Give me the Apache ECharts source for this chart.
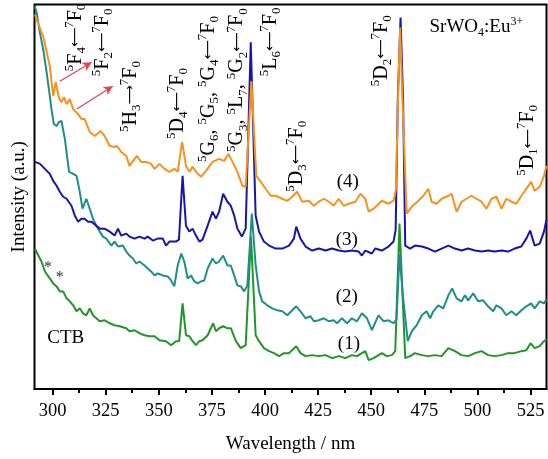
<!DOCTYPE html>
<html><head><meta charset="utf-8">
<script src="https://cdn.jsdelivr.net/npm/echarts@6/dist/echarts.min.js"></script>
<style>html,body{margin:0;padding:0;background:#fff}#c{width:548px;height:459px}</style>
</head><body><div id="c"></div>
<script>
// Wavelengths (nm) and intensities (a.u., arbitrary offsets as in the figure)
const wl1 = [291.7,293.3,294.8,296.4,297.2,298.7,300.3,301.9,303.4,305,306.6,308.1,309.7,311.3,312.8,314.3,315.9,317.5,319,320.6,322.2,324.5,326.9,329.2,331.6,334.7,336.2,338.6,340.9,343.3,345.6,348,350.3,353.4,355.8,358.1,359.6,361.2,362.8,364.4,365.9,367.5,369.1,370.6,373,375.6,376.9,378.4,380.3,382.3,383.9,386.3,388.6,390.9,393.4,395.6,397.2,399.5,401.9,404.2,406.6,408.9,411.3,414.7,416.7,419.1,422.2,425.3,428.5,431.6,434.7,437.8,440.9,443.3,445.6,447.2,448.8,451.1,455,457.3,459.7,461.3,463.3,466,468.3,470.6,473.8,476.9,480,483.1,486.3,489.4,492.5,495.6,498.8,501.9,505,508.1,511.3,514.4,517.5,520.6,523,525,526.9,529.3,531.3,532.5];
const int1 = [141,134,128,118,116,111,106,103,98,98,91,88,84,78,81,76,74,81,74,71,68,69,66,64,63,61,58,59,56,54,53,53,49,48,44,48,48,86,54,53,48,44,48,49,54,66,58,61,63,61,61,48,41,44,153,54,48,41,38,36,33,36,36,43,36,33,34,33,34,31,33,31,34,33,36,38,29,31,36,33,34,38,166,31,33,36,34,33,34,33,41,38,34,33,36,38,34,33,34,36,36,38,39,46,41,43,48,50];

const wl2 = [291.7,292.5,294,295.6,297.2,298.7,299.5,300.6,301.9,303,304.2,305.8,306.8,307.8,309.7,311.3,312.8,314.1,315.9,317.5,319,320.6,322.2,323.7,325.3,327.7,329.2,330.8,333.1,334.7,336.2,337.8,339.4,340.9,343.3,344.8,346.4,348,349.5,351.9,354.2,355.8,357.3,358.9,360.6,362,363.6,365.2,366.7,368.3,369.9,371.4,373,375.3,376.9,378.4,380.3,382.3,383.9,385.5,387,388.6,390.2,391.7,393.8,395.6,397.2,398.7,401.1,403.4,405.8,408.1,410.5,412.8,414.7,416.7,419.1,421.4,423,425.3,427.7,430,432.3,433.9,436.2,438.6,440.9,443.3,445.6,448,450.3,451.1,453.4,455.8,458.1,460.5,461.9,463.3,464.9,467.2,469.1,471.4,473.8,476.1,477.7,479.2,481.6,483.9,486.3,488.1,490.2,492.5,494.1,495.6,498,500.3,502.7,505,507.4,508.9,511.3,513.6,516,518.3,520.7,523,525.3,526.9,529.3,531.3,532.5];
const int2 = [384,378,358,341,318,294,281,266,264,268,269,251,234,218,216,214,198,181,191,181,171,164,158,153,151,144,148,143,144,138,134,131,126,128,124,121,118,114,116,114,113,109,103,124,136,128,111,114,108,106,108,109,121,131,126,128,134,124,124,114,104,103,98,104,176,124,98,88,84,81,79,78,74,79,83,78,71,73,68,69,71,68,69,66,71,66,71,68,76,71,59,63,74,68,69,66,70,135,94,48,58,64,74,78,71,78,84,81,94,101,91,88,94,89,96,88,89,83,78,84,81,74,78,74,79,83,86,81,88,86,90];

const wl3 = [291.7,294.1,296.4,298.7,300.3,301.9,303.4,305,306.6,308.9,310.5,312,313.6,315.1,316.7,318.3,320.6,322.2,324.5,326.9,329.2,330.8,332.3,334.7,336.2,338.6,340.9,343.3,344.8,347.2,349.5,351.9,353.4,355,358.1,359.5,361.2,362.8,364.4,365.9,367.5,369.1,370.6,373,375.3,376.9,378.4,380.3,382.3,383.9,385.5,387,389.1,390.9,393.3,395.6,397.2,399.5,401.9,405,408.1,411.3,413.6,414.7,416.7,419.1,422.2,425.3,428.5,431.6,434.7,437.8,440.9,444.1,445.6,447.2,450.3,451.9,455,458.1,460.5,461.5,462.5,463.8,465,466,468.3,470.6,473.8,476.9,480,483.1,486.3,489.4,492.5,495.6,498.8,501.9,505,508.1,511.3,514.4,517.5,520.6,523,524.8,526.9,529.3,531.3,532.5];
const int3 = [228,226,221,216,209,204,198,193,191,184,174,168,171,171,168,168,164,161,161,158,154,161,154,156,153,151,153,151,153,149,151,151,144,148,148,150,214,164,158,161,154,148,150,164,178,171,178,196,188,184,174,161,153,161,348,174,158,148,144,141,141,144,151,163,151,143,139,141,139,141,139,138,139,138,134,139,136,141,139,143,148,160,291,373,290,144,141,144,143,141,138,141,144,141,139,141,139,138,139,138,139,138,141,143,151,159,144,146,158,170];

const wl4 = [291.7,293.5,295.6,298.7,300.3,301.5,303,304.2,305.4,306.6,308.1,309.7,312,313.6,315.1,317.5,319.8,322.6,324.5,326.9,329.2,330.3,332.3,334.7,336.2,338.6,339.7,341.7,344.1,346.4,348,350.3,352.7,355,357.3,358.9,361,362.8,364.4,365.9,368.3,369.9,372.2,375.3,378.4,380.8,382.8,384.7,387,389.4,390.9,393.6,395.9,398,400.3,402.7,405,408.1,410.5,412.8,415.1,417.5,420.6,423,425.3,427.7,430,432.3,434.7,437,439.4,442.5,444.9,447.2,448.8,451.1,455,458.1,460.5,461.6,462.6,463.6,464.7,466.7,469.1,472.2,474.5,476.9,478.4,480.8,483.1,486.3,487.8,490.2,492.5,494.8,497.2,499.5,501.9,504.2,506.6,508.9,511.3,513.6,516,518.3,520.7,523,525.3,526.9,529.3,531.3,532.5];
const int4 = [376,365,354,324,294,308,292,288,293,286,291,281,276,271,271,258,254,259,254,244,243,244,238,234,224,231,234,228,228,226,221,226,221,218,221,218,248,224,218,223,216,213,219,228,231,229,236,228,218,204,203,309,214,208,201,194,194,191,189,193,198,188,189,184,188,191,188,184,191,184,186,188,196,191,178,181,189,186,189,200,290,363,290,176,183,189,194,201,188,186,191,194,196,178,188,191,194,191,188,181,191,193,181,191,188,186,194,201,208,199,203,214,224];

// Axis ticks
const majorTicks = [300,325,350,375,400,425,450,475,500,525];
const minorTicks = [312.5,337.5,362.5,387.5,412.5,437.5,462.5,487.5,512.5];

// Transition labels (rich text) anchored at (wavelength, intensity) = bottom of rotated text
const annoText = [
  '{p|5}{n|F}{b|4}{a|⟵}{p|7}{n|F}{b|0}',
  '{p|5}{n|F}{b|2}{a|⟵}{p|7}{n|F}{b|0}',
  '{p|5}{n|H}{b|3}{a|⟶}{p|7}{n|F}{b|0}',
  '{p|5}{n|D}{b|4}{a|⟵}{p|7}{n|F}{b|0}',
  '{p|5}{n|G}{b|6}{n|, }{p|5}{n|G}{b|5}{n|, }{p|5}{n|G}{b|4}{a|⟵}{p|7}{n|F}{b|0}',
  '{p|5}{n|G}{b|3}{n|, }{p|5}{n|L}{b|7}{n|, }{p|5}{n|G}{b|2}{a|⟵}{p|7}{n|F}{b|0}',
  '{p|5}{n|L}{b|6}{a|⟵}{p|7}{n|F}{b|0}',
  '{p|5}{n|D}{b|3}{a|⟵}{p|7}{n|F}{b|0}',
  '{p|5}{n|D}{b|2}{a|⟵}{p|7}{n|F}{b|0}',
  '{p|5}{n|D}{b|1}{a|⟵}{p|7}{n|F}{b|0}'
];
const annoWl  = [310.9,323.6,336.7,358.7,373.3,386.9,402.8,415.0,454.8,523.8];
const annoInt = [319,314,258,251,228,238,314,198,304,214];

// Horizontal labels
const tagText = ['(4)','(3)','(2)','(1)','CTB','*','*'];
const tagWl   = [439,438.5,438.5,439.5,306.2,297.8,303.4];
const tagInt  = [208,150,92,45,51,122,112];

// Red arrows (start -> end)
const arrowFrom = [[303.4,309],[311.4,281]];
const arrowTo   = [[318.4,328],[328.3,304]];

const FONT = 'Liberation Serif';
const zip = (a,b) => a.map((v,i)=>[v,b[i]]);
const colors = ['#22952A','#1F8E8B','#1616A8','#F7921E'];
const names = ['(1)','(2)','(3)','(4)'];
const datas = [zip(wl1,int1), zip(wl2,int2), zip(wl3,int3), zip(wl4,int4)];

const chart = echarts.init(document.getElementById('c'), null, {renderer:'canvas'});
const series = datas.map((d,i)=>({
  type:'line', name:names[i], data:d, showSymbol:false, symbol:'none',
  lineStyle:{color:colors[i], width:2}, itemStyle:{color:colors[i]},
  silent:true, z:2+i
}));
series[0].markLine = {
  silent:true, symbol:['none','arrow'], symbolSize:[7,9], animation:false,
  lineStyle:{color:'#E8414A', width:1.2, type:'solid'}, label:{show:false},
  data: arrowFrom.map((f,i)=>[{coord:f},{coord:arrowTo[i]}])
};

chart.setOption({
  animation:false,
  backgroundColor:'#fff',
  grid:{left:34.5, right:1.5, top:4.5, bottom:67.5, show:true, borderColor:'#000', borderWidth:2, backgroundColor:'transparent'},
  xAxis:[{
    type:'value', min:291.5, max:532.5, position:'bottom',
    name:'Wavelength / nm', nameLocation:'middle', nameGap:46,
    nameTextStyle:{fontFamily:FONT, fontSize:19, color:'#000'},
    axisLine:{show:true, lineStyle:{color:'#000', width:2}},
    axisTick:{show:true, customValues:majorTicks, length:6, inside:false, lineStyle:{color:'#000', width:2}},
    axisLabel:{show:true, customValues:majorTicks, fontFamily:FONT, fontSize:18.5, color:'#000', margin:13},
    splitLine:{show:false}
  },{
    type:'value', min:291.5, max:532.5, position:'bottom',
    axisLine:{show:false},
    axisTick:{show:true, customValues:minorTicks, length:4, inside:false, lineStyle:{color:'#000', width:2}},
    axisLabel:{show:false}, splitLine:{show:false}
  }],
  yAxis:{
    type:'value', min:0, max:386,
    name:'Intensity (a.u.)', nameLocation:'middle', nameGap:6, nameRotate:90,
    nameTextStyle:{fontFamily:FONT, fontSize:19, color:'#000'},
    axisLine:{show:false}, axisTick:{show:false}, axisLabel:{show:false}, splitLine:{show:false}
  },
  series:series
});

const px = (w,v) => chart.convertToPixel({xAxisIndex:0, yAxisIndex:0},[w,v]);
const graphics = [];
const rich = {
  n:{fontFamily:FONT, fontSize:20, lineHeight:25, fill:'#000'},
  a:{fontFamily:'DejaVu Sans', fontSize:13.5, lineHeight:25, fill:'#000'},
  p:{fontFamily:FONT, fontSize:13, lineHeight:13, verticalAlign:'top', fill:'#000'},
  b:{fontFamily:FONT, fontSize:13, lineHeight:13, verticalAlign:'bottom', fill:'#000'}
};
annoText.forEach((t,i)=>{
  const p = px(annoWl[i], annoInt[i]);
  graphics.push({type:'text', x:p[0], y:p[1], rotation:Math.PI/2, z:100, silent:true,
    style:{text:t, rich:rich, align:'left', verticalAlign:'middle', fill:'#000', fontFamily:FONT, fontSize:20}});
});
tagText.forEach((t,i)=>{
  const p = px(tagWl[i], tagInt[i]);
  graphics.push({type:'text', x:p[0], y:p[1], z:100, silent:true,
    style:{text:t, align:'center', verticalAlign:'middle', fill: t==='*'?'#333':'#000', fontFamily:FONT, fontSize: t==='*'?16:19}});
});
const sp = px(499.5, 363);
graphics.push({type:'text', x:sp[0], y:sp[1], z:100, silent:true,
  style:{text:'{m|SrWO}{s|4}{m|:Eu}{u|3+}', align:'center', verticalAlign:'middle',
    rich:{
      m:{fontFamily:FONT, fontSize:19, lineHeight:23, fill:'#000'},
      s:{fontFamily:FONT, fontSize:12, lineHeight:12, verticalAlign:'bottom', fill:'#000'},
      u:{fontFamily:FONT, fontSize:12, lineHeight:12, verticalAlign:'top', fill:'#000'}
    }}});
chart.setOption({graphic:graphics});
</script>
</body></html>
